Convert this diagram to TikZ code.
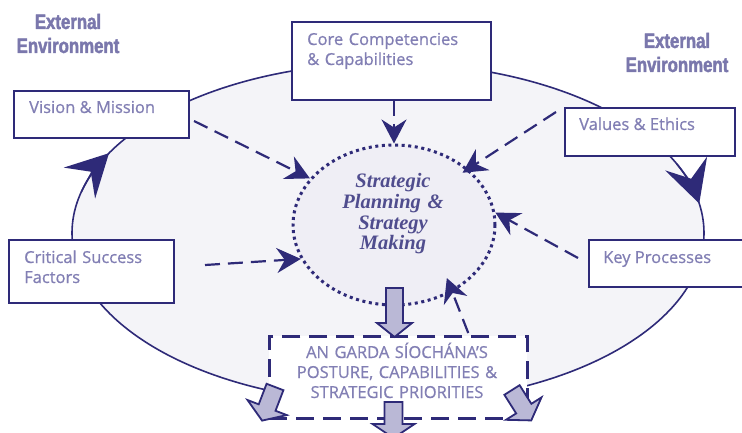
\documentclass[tikz,border=0pt]{standalone}
\usepackage{fontspec}
\usetikzlibrary{shapes.geometric,arrows.meta,calc}
\setmainfont{Open Sans}
\newfontfamily\boxfont[FakeBold=0.7]{Open Sans}
\newfontfamily\envfont[FakeStretch=0.8,FakeBold=2]{Liberation Sans Bold}
\newfontfamily\planfont{Liberation Serif}

\definecolor{navy}{RGB}{46,42,120}
\definecolor{lav}{RGB}{130,127,180}
\definecolor{envlav}{RGB}{122,119,172}
\definecolor{ringfill}{RGB}{244,244,248}
\definecolor{planfill}{RGB}{239,238,245}
\definecolor{blockfill}{RGB}{186,184,214}
\definecolor{plantext}{RGB}{80,77,142}

\tikzset{
  pics/blockarrow/.style n args={4}{code={
    \draw[blockstyle] (0,-#3) -- ({#1-#2},-#3) -- ({#1-#2},-#4) -- (#1,0)
      -- ({#1-#2},#4) -- ({#1-#2},#3) -- (0,#3) -- cycle;
  }}
}

\begin{document}
\begin{tikzpicture}[x=1pt,y=-1pt,
  ring/.style={ellipse, draw=navy, line width=1.6pt, fill=ringfill,
    minimum width=632pt, minimum height=340pt, inner sep=0pt},
  plan/.style={ellipse, draw=navy, line width=3pt, dash pattern=on 3pt off 3.6pt,
    fill=planfill, minimum width=202pt, minimum height=160pt, inner sep=0pt},
  box/.style={rectangle, draw=navy, line width=2pt, fill=white, inner sep=0pt,
    anchor=north west},
  postbox/.style={rectangle, draw=navy, line width=2.5pt, dash pattern=on 18pt off 9pt,
    fill=white, inner sep=0pt, anchor=north west},
  boxtext/.style={text=lav, font=\boxfont\fontsize{16.5}{20}\selectfont,
    inner sep=0pt, anchor=base west, align=left},
  envtext/.style={text=envlav, font=\envfont\fontsize{21}{24}\selectfont,
    inner sep=0pt, anchor=base, align=center, text width=150pt},
  plantitle/.style={text=plantext, font=\planfont\bfseries\itshape\fontsize{20.5}{20.6}\selectfont,
    inner sep=0pt, anchor=base, align=center, text width=180pt},
  feed/.style={draw=navy, line width=2.2pt, dash pattern=on 15pt off 8pt,
    -{Stealth[length=24pt,width=25pt,inset=8pt]}},
  ringtip/.style={draw=navy, line width=1.6pt,
    -{Stealth[length=42pt,width=44pt,inset=16pt]}},
  blockstyle/.style={draw=navy, line width=1.8pt, fill=blockfill, line join=miter}
]
\useasboundingbox (0,0) rectangle (742,433);

% outer cycle
\node[ring] (ring) at (388,233) {};

% surrounding elements
\node[box, minimum width=175pt, minimum height=47pt] (vision) at (13,90) {};
\node[box, minimum width=199pt, minimum height=78pt] (core) at (291,21) {};
\node[box, minimum width=170pt, minimum height=48pt] (values) at (564,107) {};
\node[box, minimum width=165pt, minimum height=63pt] (critical) at (8,239) {};
\node[box, minimum width=172pt, minimum height=47pt] (keyproc) at (588,239) {};

% central planning ellipse
\node[plan] (plan) at (394,225) {};

% inputs into planning
\draw[feed] ($(vision.north east)+(4,31)$) -- (plan.151);
\draw[feed] (core.south -| plan.north) -- (plan.north);
\draw[feed, shorten >=-7pt] ($(values.north west)+(-8,5)$) -- (plan.37);
\draw[feed] ($(keyproc.north west)+(-10,19)$) -- (plan.7);
\draw[feed] ($(critical.north east)+(30,26)$) -- (plan.200);

% posture box and its feedback
\node[postbox, minimum width=258pt, minimum height=82pt] (posture) at (268,335) {};
\draw[feed, shorten >=-15pt] ($(posture.north)+(70,-2)$) -- (plan.311);

% block arrows
\pic[rotate=-90] at (394.5,288) {blockarrow={49}{14}{8.5}{17.5}};
\pic[rotate=-90] at (393.5,402) {blockarrow={36}{14}{9}{21}};
\pic[rotate=-111] at (275,387) {blockarrow={36}{14}{9}{21}};
\pic[rotate=-57.7] at (512,390) {blockarrow={36}{14}{9}{21}};

% direction of the cycle
\draw[ringtip] ($(ring.center)+(194:316 and 170)$)
  arc[start angle=194, end angle=208, x radius=316, y radius=170];
\draw[ringtip] ($(ring.center)+(336:316 and 170)$)
  arc[start angle=336, end angle=350, x radius=316, y radius=170];

% labels
\node[envtext] (envleft) at (68,29) {External\\Environment};
\node[envtext] (envright) at (677,48) {External\\Environment};

\node[boxtext] (visiont) at (29,113) {Vision \& Mission};
\node[boxtext, text width=180pt] (coret) at (307,45) {Core Competencies\\\& Capabilities};
\node[boxtext] (valuest) at (579,130) {Values \& Ethics};
\node[boxtext, text width=150pt] (criticalt) at (24,263) {Critical Success\\Factors};
\node[boxtext] (keyproct) at (603,263) {Key Processes};

\node[plantitle] (plant) at (393,188) {Strategic\\Planning \&\\Strategy\\Making};

\node[boxtext, anchor=base, align=center, text width=258pt] (posturet) at (397,358)
  {AN GARDA SÍOCHÁNA’S\\POSTURE, CAPABILITIES \&\\STRATEGIC PRIORITIES};
\end{tikzpicture}
\end{document}
